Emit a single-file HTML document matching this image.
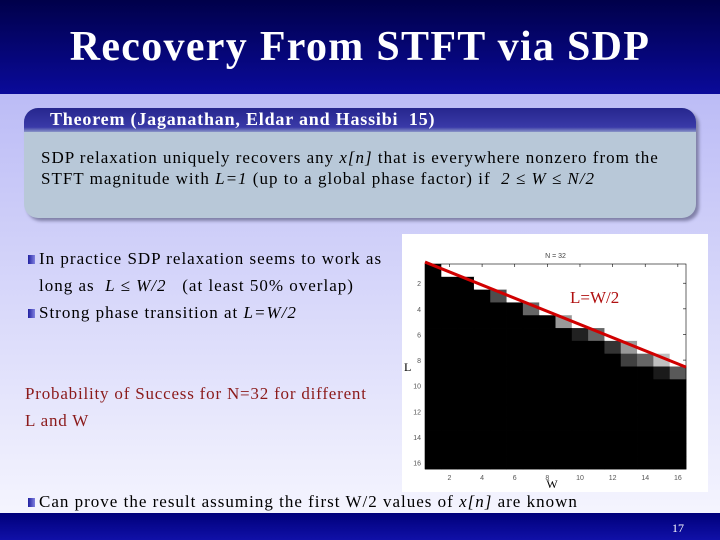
<!DOCTYPE html>
<html><head><meta charset="utf-8"><style>
html,body{margin:0;padding:0}
body{width:720px;height:540px;position:relative;overflow:hidden;font-family:"Liberation Serif",serif;background:linear-gradient(#bcbcf6 95px,#d8d8fa 300px,#f4f4fe 510px)}
.abs{position:absolute}
#title{left:0;top:0;width:720px;height:94px;background:linear-gradient(#00004a,#0a0a9a);color:#fff;font-size:42px;font-weight:bold;text-align:center;line-height:94px;letter-spacing:1.3px}
#thm{left:24px;top:108px;width:672px;height:110px;border-radius:14px;background:#b8c8d8;box-shadow:3px 3px 3px #8080a8;overflow:hidden}
#thm-h{left:0;top:0;width:672px;height:24px;background:linear-gradient(#26268e,#3a3aa8 80%,#8a96c8);color:#fff;font-size:18px;font-weight:bold;padding-left:26px;box-sizing:border-box;line-height:22px;letter-spacing:0.8px}
#thm-b{left:17px;top:39px;font-size:17px;line-height:21px;color:#000;letter-spacing:1px;white-space:nowrap}
.txt{font-size:17px;color:#000;line-height:27px;letter-spacing:1px;white-space:nowrap}
.bul{display:inline-block;width:7px;height:9px;background:linear-gradient(90deg,#2020a0,#8080e0);margin-right:4px;vertical-align:0}
#foot{left:0;top:513px;width:720px;height:27px;background:linear-gradient(#00007a,#1010a8);color:#fff;font-size:12px}
</style></head><body>
<div id="title" class="abs">Recovery From STFT via SDP</div>
<div id="thm" class="abs">
 <div id="thm-h" class="abs">Theorem (Jaganathan, Eldar and Hassibi&nbsp; 15)</div>
 <div id="thm-b" class="abs">SDP relaxation uniquely recovers any <i>x[n]</i> that is everywhere nonzero from the<br>STFT magnitude with <i>L=1</i> (up to a global phase factor) if &nbsp;<i>2 ≤ W ≤ N/2</i></div>
</div>
<div class="abs txt" style="left:28px;top:245px">
 <div><span class="bul"></span>In practice SDP relaxation seems to work as</div>
 <div style="padding-left:11px">long as &nbsp;<i>L ≤ W/2</i> &nbsp;&nbsp;(at least 50% overlap)</div>
 <div><span class="bul"></span>Strong phase transition at <i>L=W/2</i></div>
</div>
<div class="abs txt" style="left:25px;top:380px;color:#8b1a1a;letter-spacing:0.8px">Probability of Success for N=32 for different<br>L and W</div>
<div class="abs txt" style="left:28px;top:488px"><span class="bul"></span>Can prove the result assuming the first W/2 values of <i>x[n]</i> are known</div>
<div id="foot" class="abs"><span class="abs" style="left:672px;top:8px">17</span></div>

<svg class="abs" style="left:402px;top:234px" width="306" height="258">
<rect x="0" y="0" width="306" height="258" fill="#fff"/>
<g id="cells"></g>
<g id="axes"></g>
</svg>
<script>
const wValues=[1,2,3,4,5,6,7,8,9,10,11,12,13,14,15,16];
const lValues=[1,2,3,4,5,6,7,8,9,10,11,12,13,14,15,16];
// success probability per row (L), per column (W)
const successRows=[
 [0,1,1,1,1,1,1,1,1,1,1,1,1,1,1,1],
 [0,0,0,1,1,1,1,1,1,1,1,1,1,1,1,1],
 [0,0,0,0,0.3,1,1,1,1,1,1,1,1,1,1,1],
 [0,0,0,0,0,0,0.4,1,1,1,1,1,1,1,1,1],
 [0,0,0,0,0,0,0,0,0.6,1,1,1,1,1,1,1],
 [0,0,0,0,0,0,0,0,0,0.13,0.4,1,1,1,1,1],
 [0,0,0,0,0,0,0,0,0,0,0,0.2,0.6,1,1,1],
 [0,0,0,0,0,0,0,0,0,0,0,0,0.25,0.4,0.75,1],
 [0,0,0,0,0,0,0,0,0,0,0,0,0,0,0.1,0.35],
 [0,0,0,0,0,0,0,0,0,0,0,0,0,0,0,0],
 [0,0,0,0,0,0,0,0,0,0,0,0,0,0,0,0],
 [0,0,0,0,0,0,0,0,0,0,0,0,0,0,0,0],
 [0,0,0,0,0,0,0,0,0,0,0,0,0,0,0,0],
 [0,0,0,0,0,0,0,0,0,0,0,0,0,0,0,0],
 [0,0,0,0,0,0,0,0,0,0,0,0,0,0,0,0],
 [0,0,0,0,0,0,0,0,0,0,0,0,0,0,0,0]];
const xTicks=[2,4,6,8,10,12,14,16];
const yTicks=[2,4,6,8,10,12,14,16];
const lineW=[0.5,16.5];
const lineL=[0.35,8.55];

const NS='http://www.w3.org/2000/svg';
const X0=23,X1=284,Y0=30,Y1=235;
const cw=(X1-X0)/wValues.length, ch=(Y1-Y0)/lValues.length;
const xc=w=>X0+(w-0.5)*cw; // center of column w
const yc=l=>Y0+(l-0.5)*ch;
const cells=document.getElementById('cells'), axes=document.getElementById('axes');
function mk(tag,a,p){const e=document.createElementNS(NS,tag);for(const k in a)e.setAttribute(k,a[k]);p.appendChild(e);return e;}
successRows.forEach((row,i)=>row.forEach((v,j)=>{
 const g=Math.round(v*255);
 const r=mk('rect',{x:xc(wValues[j])-cw/2,y:yc(lValues[i])-ch/2,width:cw+0.4,height:ch+0.4,fill:`rgb(${g},${g},${g})`},cells);
 
 
}));
const frame=mk('rect',{x:X0,y:Y0,width:X1-X0,height:Y1-Y0,fill:'none',stroke:'#000','stroke-width':0.6},axes);


xTicks.forEach(t=>{
 const x=xc(t);
 mk('line',{x1:x,x2:x,y1:Y0,y2:Y0+3,stroke:'#000','stroke-width':0.6},axes);
 const tx=mk('text',{x:x,y:Y1+11,'font-size':7,'text-anchor':'middle',fill:'#555','font-family':'Liberation Sans, sans-serif'},axes);
 tx.textContent=t;
 
 
});
yTicks.forEach(t=>{
 const y=yc(t);
 mk('line',{x1:X1,x2:X1-3,y1:y,y2:y,stroke:'#000','stroke-width':0.6},axes);
 const tx=mk('text',{x:X0-4,y:y+3,'font-size':7,'text-anchor':'end',fill:'#555','font-family':'Liberation Sans, sans-serif'},axes);
 tx.textContent=t;
 
 
});
const ttl=mk('text',{x:(X0+X1)/2,y:Y0-6,'font-size':7,'text-anchor':'middle',fill:'#444','font-family':'Liberation Sans, sans-serif'},axes);
ttl.textContent='N = 32';


const ln=mk('line',{x1:xc(lineW[0]),y1:yc(lineL[0]),x2:xc(lineW[1]),y2:yc(lineL[1]),stroke:'#d00000','stroke-width':3},axes);


const lb=mk('text',{x:168,y:69,'font-size':17,fill:'#b01010','font-family':'Liberation Serif, serif'},axes);
lb.textContent='L=W/2';


const xl=mk('text',{x:150,y:254,'font-size':12,'text-anchor':'middle',fill:'#000','font-family':'Liberation Serif, serif'},axes);
xl.textContent='W';


const yl=mk('text',{x:2,y:137,'font-size':12,fill:'#000','font-family':'Liberation Serif, serif'},axes);
yl.textContent='L';


</script>
</body></html>
